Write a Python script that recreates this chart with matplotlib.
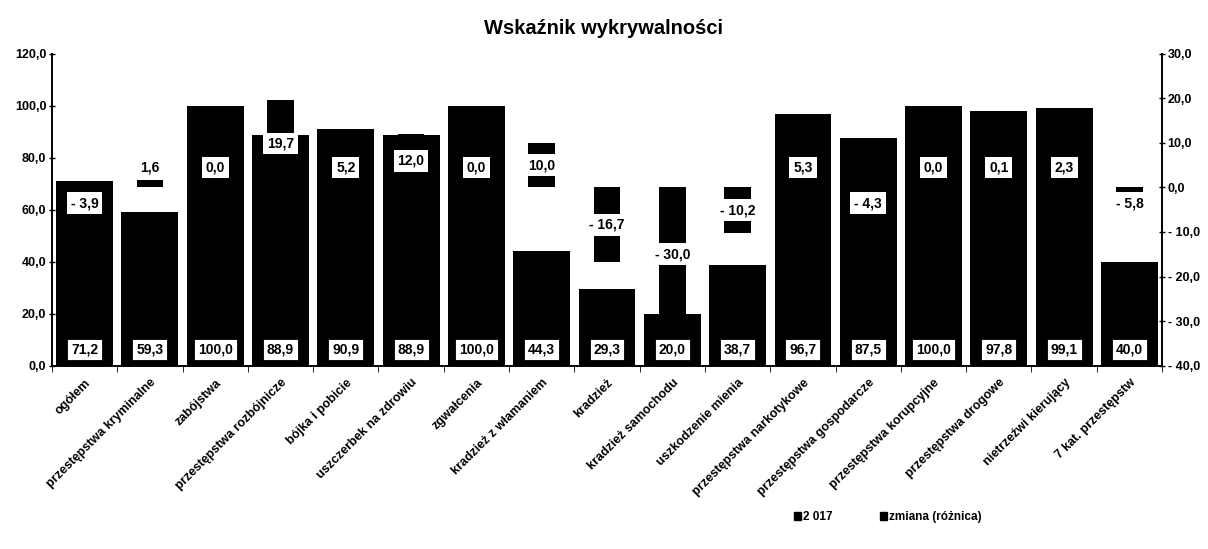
import matplotlib
matplotlib.use("Agg")
import matplotlib.pyplot as plt
import numpy as np
from matplotlib.patches import Patch

categories = ["ogółem", "przestępstwa kryminalne", "zabójstwa", "przestępstwa rozbójnicze",
              "bójka i pobicie", "uszczerbek na zdrowiu", "zgwałcenia", "kradzież z włamaniem",
              "kradzież", "kradzież samochodu", "uszkodzenie mienia", "przestępstwa narkotykowe",
              "przestępstwa gospodarcze", "przestępstwa korupcyjne", "przestępstwa drogowe",
              "nietrzeźwi kierujący", "7 kat. przestępstw"]
values_2017 = [71.2, 59.3, 100.0, 88.9, 90.9, 88.9, 100.0, 44.3, 29.3, 20.0, 38.7,
               96.7, 87.5, 100.0, 97.8, 99.1, 40.0]
change = [-3.9, 1.6, 0.0, 19.7, 5.2, 12.0, 0.0, 10.0, -16.7, -30.0, -10.2,
          5.3, -4.3, 0.0, 0.1, 2.3, -5.8]
left_ticks = [0, 20, 40, 60, 80, 100, 120]
right_ticks = [-40, -30, -20, -10, 0, 10, 20, 30]
legend_labels = ["2 017", "zmiana (różnica)"]
title = "Wskaźnik wykrywalności"

plt.rcParams['font.family'] = ['Liberation Sans', 'DejaVu Sans']

def fmt(v):
    s = f"{abs(v):.1f}".replace(".", ",")
    return ("- " + s) if v < 0 else s

fig = plt.figure(figsize=(12.08, 5.49), dpi=100)
ax = fig.add_axes([0.043, 0.334, 0.919, 0.568])
ax2 = ax.twinx()

x = np.arange(len(categories))
ax.bar(x, values_2017, width=0.87, color="black", zorder=2)
ax2.bar(x, change, width=0.41, color="black", zorder=2)

ax.set_xlim(-0.5, len(categories) - 0.5)
ax.set_ylim(0, 120)
ax2.set_ylim(-40, 30)

ax.set_yticks(left_ticks)
ax.set_yticklabels([fmt(v) for v in left_ticks], fontsize=9, fontweight='bold')
ax2.set_yticks(right_ticks)
ax2.set_yticklabels([fmt(v) for v in right_ticks], fontsize=9, fontweight='bold')
ax.tick_params(axis='y', length=4, width=1, direction='inout', pad=2)
ax2.tick_params(axis='y', length=4, width=1, direction='inout', pad=2)

ax.set_xticks(x)
ax.set_xticklabels(categories, rotation=45, ha='right', rotation_mode='anchor',
                   fontsize=9, fontweight='bold')
ax.tick_params(axis='x', length=0, pad=8)
ax.set_xticks(np.arange(-0.5, len(categories)), minor=True)
ax.tick_params(axis='x', which='minor', length=4, direction='out')

for a in (ax, ax2):
    a.spines['top'].set_visible(False)
    for s in ('left', 'right', 'bottom'):
        a.spines[s].set_linewidth(1.2)

# 2017 labels at bottom of bars
for xi, v in zip(x, values_2017):
    ax.text(xi, 6.2, fmt(v), ha='center', va='center', fontsize=10, fontweight='bold',
            bbox=dict(boxstyle='square,pad=0.28', fc='white', ec='black', lw=0.6), zorder=5)

# change labels
for xi, v in zip(x, change):
    if abs(v) < 6:
        yl = 4.5 if v >= 0 else -3.5
    else:
        yl = v / 2
    ax2.text(xi, yl, fmt(v), ha='center', va='center', fontsize=10, fontweight='bold',
             bbox=dict(boxstyle='square,pad=0.28', fc='white', ec='none'), zorder=5)

fig.text(0.5, 0.948, title, ha='center', va='center', fontsize=14.5, fontweight='bold')

handles = [Patch(color='black'), Patch(color='black')]
fig.legend(handles, legend_labels, loc='center', bbox_to_anchor=(0.735, 0.058), ncol=2,
           frameon=False, prop={'size': 8.5, 'weight': 'bold'},
           handlelength=0.6, handleheight=0.6, handletextpad=0.2, columnspacing=4)

fig.savefig("out.png", dpi=100)
